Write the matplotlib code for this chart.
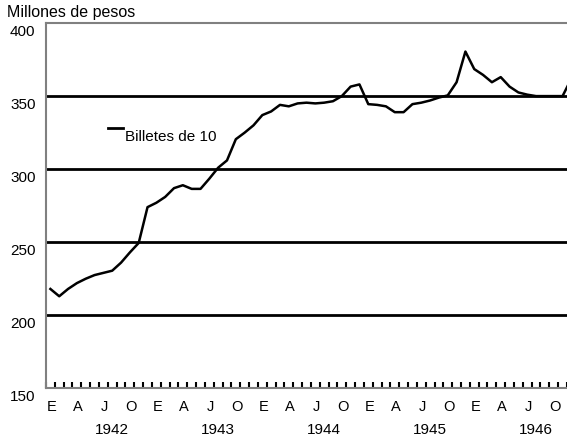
import numpy as np
import matplotlib
matplotlib.use("Agg")
import matplotlib.pyplot as plt
import matplotlib.transforms as mtransforms

plt.rcParams['font.family'] = ['Liberation Sans', 'DejaVu Sans']

# Billetes de 10 pesos en circulación, mensual ene-1942 a dic-1946 (millones de pesos)
billetes_10 = [
    218, 213, 218, 222, 225, 227.5, 229, 230.5, 236, 243, 249.5, 274,      # 1942
    277, 281, 287, 289, 286.5, 286.5, 293.5, 301, 306, 320.5, 325, 330,    # 1943
    337, 339.5, 344, 343, 345, 345.5, 345, 345.5, 346.5, 350, 356.5, 358,  # 1944
    344.5, 344, 343, 339, 339, 344.5, 345.5, 347, 349, 350.5, 359.5, 380.5,  # 1945
    368.5, 364.5, 359.5, 363, 356.5, 352.5, 351, 350, 350, 350, 350, 362,  # 1946
]
month_letters = ['E', 'A', 'J', 'O']
years = ['1942', '1943', '1944', '1945', '1946']
y_ticks = [150, 200, 250, 300, 350, 400]
grid_levels = [200, 250, 300, 350]

months = np.arange(len(billetes_10))

fig = plt.figure(figsize=(5.67, 4.39), dpi=100)
# the plot runs a little past the right edge of the picture, as in the original
ax = fig.add_axes([0.0811, 0.1132, 0.9344, 0.832])

for g in grid_levels:
    ax.axhline(g, color='black', lw=2, zorder=1)

ax.plot(months, billetes_10, color='black', lw=1.8, zorder=3)

ax.set_xlim(-0.5, len(billetes_10) - 0.5)
ax.set_ylim(150, 400)

for side in ['left', 'bottom', 'top']:
    ax.spines[side].set_color('#808080')
    ax.spines[side].set_linewidth(1.5)
ax.spines['right'].set_visible(False)

# month ticks between categories, pointing up into the plot
ax.set_xticks(np.arange(len(billetes_10) + 1) - 0.5)
ax.set_xticklabels([])
ax.tick_params(axis='x', direction='in', length=4, width=1.5, color='black')
ax.set_yticks(y_ticks)
ax.set_yticklabels([str(v) for v in y_ticks], fontsize=11)
ax.tick_params(axis='y', length=0, pad=7.5)
# value labels sit a bit below their lines in the original
shift = mtransforms.ScaledTranslation(0, -4.5 / 72, fig.dpi_scale_trans)
for lbl in ax.get_yticklabels():
    lbl.set_transform(lbl.get_transform() + shift)

# quarter letters and years under the axis
for i, yr in enumerate(years):
    for q, letter in enumerate(month_letters):
        ax.text(i * 12 + q * 3 + 0.15, -0.03, letter, transform=ax.get_xaxis_transform(),
                ha='center', va='top', fontsize=10.5)
    ax.text(i * 12 + 7, -0.093, yr, transform=ax.get_xaxis_transform(),
            ha='center', va='top', fontsize=11)

fig.text(0.012, 0.972, 'Millones de pesos', ha='left', va='center', fontsize=11.5)

# legend: short dash with label
ax.plot([0.117, 0.146], [0.712, 0.712], transform=ax.transAxes, color='black', lw=2)
ax.text(0.149, 0.69, 'Billetes de 10', transform=ax.transAxes,
        ha='left', va='center', fontsize=11)

fig.savefig('out.png', dpi=100)
